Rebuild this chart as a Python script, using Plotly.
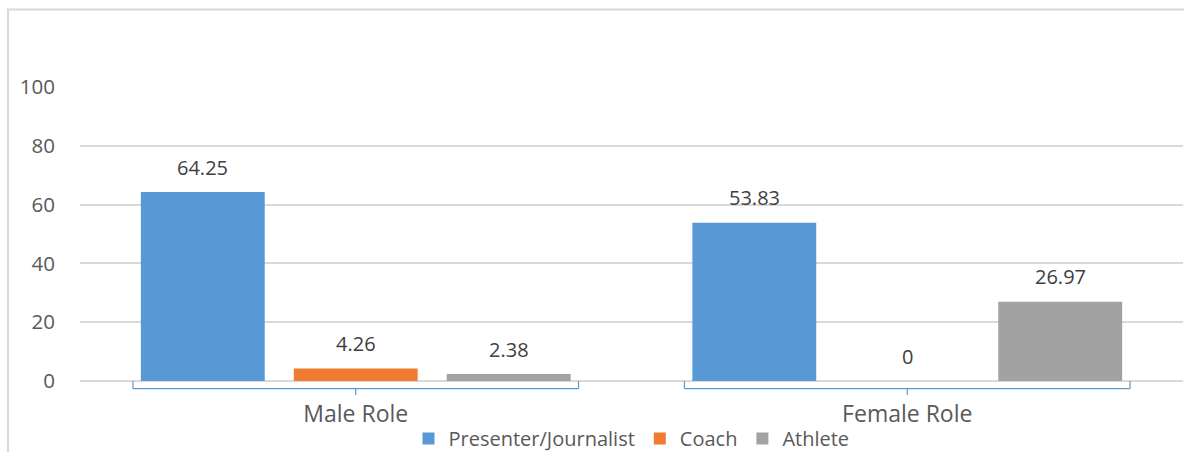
import plotly.graph_objects as go

categories = ["Male Role", "Female Role"]
series_names = ["Presenter/Journalist", "Coach", "Athlete"]
presenter = [64.25, 53.83]
coach = [4.26, 0]
athlete = [2.38, 26.97]
series_values = [presenter, coach, athlete]
colors = ["#5898d4", "#ef7c30", "#a2a2a2"]
y_ticks = [0, 20, 40, 60, 80, 100]

FONT = "Open Sans"
BARGAP = 0.168
BARGROUPGAP = 0.19

fig = go.Figure()
for name, vals, col in zip(series_names, series_values, colors):
    fig.add_trace(go.Bar(
        name=name, x=categories, y=vals,
        marker=dict(color=col, line=dict(width=0)),
    ))

# data labels (Excel "outside end" style, a bit higher than plotly default)
n = len(series_names)
slot = (1 - BARGAP) / n
for i, vals in enumerate(series_values):
    for j, v in enumerate(vals):
        fig.add_annotation(
            x=j + (i - (n - 1) / 2) * slot, y=v, xref="x", yref="y",
            text=f"{v:g}", showarrow=False, yanchor="middle", yshift=25,
            font=dict(family=FONT, size=20, color="#404040"),
        )

# category brackets below the axis
line = dict(color="#5b9bd5", width=1.2)
yb, ytop, ytick = -0.026, 0.0, -0.048
for j in range(len(categories)):
    x0, x1 = j - 0.404, j + 0.404
    fig.add_shape(type="line", xref="x", yref="paper", x0=x0, x1=x1, y0=yb, y1=yb, line=line)
    fig.add_shape(type="line", xref="x", yref="paper", x0=x0, x1=x0, y0=yb, y1=ytop, line=line)
    fig.add_shape(type="line", xref="x", yref="paper", x0=x1, x1=x1, y0=yb, y1=ytop, line=line)
    fig.add_shape(type="line", xref="x", yref="paper", x0=j, x1=j, y0=yb, y1=ytick, line=line)

# chart border (partially outside the window)
fig.add_shape(type="rect", xref="paper", yref="paper",
              x0=-0.0653, x1=1.3, y0=-0.6, y1=1.2635,
              line=dict(color="#d9d9d9", width=2), fillcolor="rgba(0,0,0,0)", layer="below")

fig.update_layout(
    width=1184, height=452,
    margin=dict(l=80, r=1, t=87, b=71, autoexpand=False),
    paper_bgcolor="white", plot_bgcolor="white",
    barmode="group", bargap=BARGAP, bargroupgap=BARGROUPGAP,
    font=dict(family=FONT, color="#595959"),
    showlegend=True,
    legend=dict(orientation="h", x=0.5, xanchor="center", yref="container", y=0.03, yanchor="middle",
                font=dict(family=FONT, size=20, color="#595959"),
                bgcolor="rgba(0,0,0,0)", borderwidth=0,
                itemwidth=30, traceorder="normal"),
    xaxis=dict(showgrid=False, showline=False, zeroline=False, automargin=False,
               ticks="outside", ticklen=12, tickcolor="rgba(0,0,0,0)",
               tickfont=dict(family=FONT, size=23, color="#595959")),
    yaxis=dict(range=[0, 100], tickvals=y_ticks, showgrid=True, gridcolor="#d9d9d9", gridwidth=1.5,
               zeroline=True, zerolinecolor="#d9d9d9", zerolinewidth=1.5, showline=False,
               automargin=False,
               ticks="outside", ticklen=20, tickcolor="rgba(0,0,0,0)",
               tickfont=dict(family=FONT, size=20.5, color="#595959")),
)

fig.write_html(
    "out.html",
    config={"displayModeBar": False},
    post_script="document.body.style.margin='0';document.body.style.overflow='hidden';",
)
